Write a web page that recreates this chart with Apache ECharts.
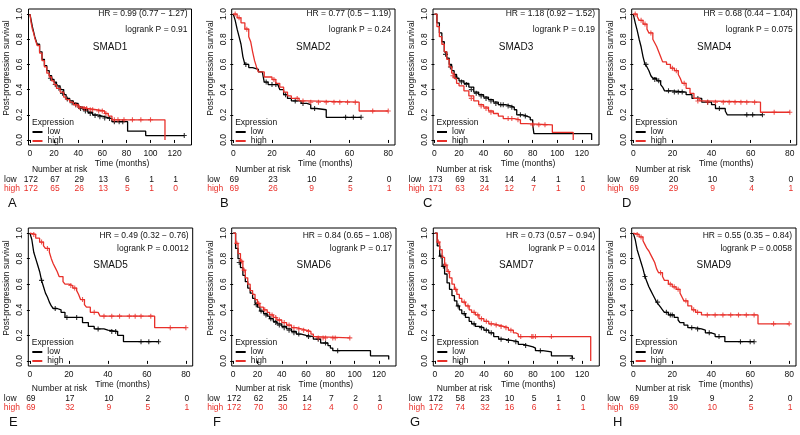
<!DOCTYPE html>
<html><head><meta charset="utf-8">
<script src="https://cdn.jsdelivr.net/npm/echarts@6/dist/echarts.min.js"></script>
<style>html,body{margin:0;padding:0;background:#fff}#c{width:800px;height:435px}</style>
</head><body><div id="c"></div>
<script>
// ---------- data ----------
const letters = ['A','B','C','D','E','F','G','H'];
const genes = ['SMAD1','SMAD2','SMAD3','SMAD4','SMAD5','SMAD6','SAMD7','SMAD9'];
const hrTexts = ['HR = 0.99 (0.77 \u2212 1.27)','HR = 0.77 (0.5 \u2212 1.19)','HR = 1.18 (0.92 \u2212 1.52)','HR = 0.68 (0.44 \u2212 1.04)',
                 'HR = 0.49 (0.32 \u2212 0.76)','HR = 0.84 (0.65 \u2212 1.08)','HR = 0.73 (0.57 \u2212 0.94)','HR = 0.55 (0.35 \u2212 0.84)'];
const pTexts = ['logrank P = 0.91','logrank P = 0.24','logrank P = 0.19','logrank P = 0.075',
                'logrank P = 0.0012','logrank P = 0.17','logrank P = 0.014','logrank P = 0.0058'];
const xTicksLong = [0,20,40,60,80,100,120];
const xTicksShort = [0,20,40,60,80];
const yTicks = [0,0.2,0.4,0.6,0.8,1.0];
const riskLow = [[172,67,29,13,6,1,1],[69,23,10,2,0],[173,69,31,14,4,1,1],[69,20,10,3,0],
                 [69,17,10,2,0],[172,62,25,14,7,2,1],[172,58,23,10,5,1,0],[69,19,9,2,0]];
const riskHigh = [[172,65,26,13,5,1,0],[69,26,9,5,1],[171,63,24,12,7,1,0],[69,29,9,4,1],
                  [69,32,9,5,1],[172,70,30,12,4,0,0],[172,74,32,16,6,1,1],[69,30,10,5,1]];

const lowA = [[0,1],[1,0.95],[2,0.9],[3,0.86],[4,0.82],[5,0.79],[6,0.76],[8,0.70],[10,0.64],[12,0.59],[14,0.55],[16,0.51],[18,0.48],[20,0.46],[22,0.43],[25,0.40],[28,0.36],[30,0.33],[33,0.31],[36,0.29],[40,0.26],[44,0.24],[48,0.22],[52,0.20],[56,0.19],[60,0.18],[64,0.17],[68,0.145],[81,0.07],[96,0.035],[128,0.035]];
const highA = [[0,1],[1,0.93],[2,0.88],[3,0.85],[4,0.81],[5,0.78],[6,0.75],[8,0.69],[10,0.63],[12,0.58],[14,0.53],[16,0.50],[18,0.47],[20,0.44],[22,0.41],[25,0.38],[28,0.34],[30,0.32],[33,0.30],[36,0.28],[40,0.26],[44,0.25],[48,0.24],[55,0.23],[62,0.21],[65,0.19],[68,0.16],[112,0.16],[112,0]];
const censLowA = [[17,0.49],[21,0.44],[24,0.41],[27,0.37],[31,0.325],[35,0.295],[38,0.28],[42,0.25],[46,0.23],[50,0.21],[54,0.195],[58,0.185],[62,0.175],[66,0.17],[70,0.145],[74,0.145],[77,0.145],[128,0.035]];
const censHighA = [[38,0.28],[41,0.26],[45,0.25],[47,0.25],[50,0.24],[52,0.24],[57,0.23],[60,0.23],[63,0.21],[70,0.16],[73,0.16],[78,0.16],[85,0.16],[92,0.16],[100,0.16]];

const lowB = [[0,1],[1,0.95],[2,0.88],[3,0.82],[4,0.76],[5,0.66],[6,0.60],[8,0.575],[10,0.56],[13,0.54],[15,0.53],[16,0.46],[18,0.44],[23,0.43],[24,0.40],[26,0.36],[28,0.33],[30,0.31],[35,0.29],[38,0.28],[40,0.25],[43,0.24],[48,0.18],[66,0.18]];
const highB = [[0,1],[2,0.97],[4,0.93],[6,0.88],[8,0.82],[9,0.78],[10,0.70],[11,0.63],[12,0.58],[13,0.54],[16,0.50],[20,0.48],[22,0.45],[24,0.42],[26,0.38],[28,0.35],[30,0.33],[34,0.31],[38,0.30],[65,0.23],[80,0.23]];
const censLowB = [[6.5,0.60],[17,0.46],[20,0.44],[22,0.44],[27,0.36],[32,0.31],[36,0.29],[42,0.25],[58,0.18],[62,0.18],[66,0.18]];
const censHighB = [[1,1],[3,0.97],[7,0.88],[21,0.48],[33,0.33],[36,0.31],[40,0.30],[44,0.30],[48,0.30],[52,0.30],[55,0.30],[59,0.30],[63,0.30],[72,0.23],[80,0.23]];

const lowC = [[0,1],[2,0.93],[4,0.85],[6,0.78],[8,0.70],[10,0.65],[12,0.60],[14,0.55],[16,0.52],[18,0.49],[20,0.47],[24,0.45],[28,0.42],[32,0.38],[36,0.36],[40,0.34],[44,0.32],[48,0.30],[52,0.28],[58,0.27],[62,0.26],[65,0.24],[67,0.20],[72,0.19],[75,0.18],[78,0.16],[80,0.12],[81,0.05],[128,0.05],[128,0]];
const highC = [[0,1],[2,0.9],[4,0.82],[6,0.76],[8,0.70],[10,0.64],[12,0.58],[14,0.53],[16,0.49],[18,0.45],[20,0.43],[24,0.39],[28,0.35],[32,0.31],[36,0.28],[40,0.26],[44,0.23],[48,0.21],[52,0.19],[56,0.17],[65,0.16],[70,0.13],[75,0.12],[96,0.06],[113,0]];
const censLowC = [[9,0.68],[13,0.58],[17,0.5],[22,0.46],[26,0.44],[30,0.40],[34,0.37],[38,0.35],[42,0.33],[46,0.31],[50,0.29],[54,0.28],[56,0.28],[60,0.27],[63,0.26],[70,0.20],[74,0.19]];
const censHighC = [[15,0.51],[30,0.33],[38,0.27],[42,0.25],[46,0.22],[60,0.17],[63,0.17],[68,0.16],[80,0.12],[85,0.12],[90,0.12]];

const lowD = [[0,1],[1,0.93],[2,0.87],[3,0.80],[4,0.74],[5,0.66],[6,0.60],[7,0.58],[8,0.55],[9,0.51],[10,0.49],[12,0.47],[14,0.44],[15,0.42],[16,0.39],[20,0.38],[27,0.36],[30,0.33],[35,0.30],[40,0.28],[42,0.25],[47,0.23],[48,0.20],[66,0.20]];
const highD = [[0,1],[2,0.98],[3,0.95],[5,0.92],[7,0.88],[8,0.85],[10,0.80],[11,0.77],[12,0.74],[13,0.70],[14,0.66],[15,0.62],[17,0.60],[19,0.57],[21,0.55],[23,0.52],[24,0.49],[25,0.45],[27,0.41],[29,0.37],[31,0.33],[34,0.31],[36,0.30],[65,0.22],[80,0.22]];
const censLowD = [[6.5,0.60],[11,0.48],[13,0.47],[18,0.39],[21,0.38],[23,0.38],[25,0.38],[33,0.33],[38,0.30],[44,0.25],[58,0.20],[61,0.20],[66,0.20]];
const censHighD = [[1,1],[4,0.95],[6,0.92],[9,0.85],[20,0.57],[22,0.55],[26,0.45],[33,0.31],[38,0.30],[42,0.30],[46,0.30],[49,0.30],[52,0.30],[55,0.30],[58,0.30],[62,0.30],[72,0.22],[80,0.22]];

const lowE = [[0,1],[1,0.95],[2,0.85],[3,0.80],[4,0.75],[5,0.70],[6,0.63],[7,0.58],[8,0.53],[9,0.50],[10,0.46],[11,0.43],[12,0.41],[14,0.40],[16,0.38],[18,0.34],[27,0.30],[30,0.27],[33,0.25],[38,0.24],[40,0.23],[45,0.20],[48,0.15],[66,0.15]];
const highE = [[0,1],[1,0.99],[3,0.96],[5,0.93],[7,0.90],[8,0.88],[10,0.85],[11,0.80],[12,0.76],[13,0.73],[14,0.70],[15,0.66],[17,0.62],[18,0.60],[20,0.59],[22,0.57],[24,0.55],[25,0.52],[26,0.48],[28,0.44],[29,0.42],[31,0.38],[35,0.37],[36,0.35],[64,0.26],[80,0.26]];
const censLowE = [[6,0.63],[13,0.41],[19,0.34],[24,0.34],[35,0.25],[42,0.23],[44,0.23],[57,0.15],[61,0.15],[66,0.15]];
const censHighE = [[2,0.99],[6,0.93],[9,0.88],[21,0.59],[23,0.57],[27,0.48],[33,0.38],[38,0.35],[42,0.35],[46,0.35],[51,0.35],[54,0.35],[57,0.35],[62,0.35],[72,0.26],[80,0.26]];

const lowF = [[0,1],[2,0.88],[4,0.80],[6,0.73],[8,0.67],[10,0.62],[12,0.57],[14,0.53],[16,0.49],[18,0.45],[20,0.42],[22,0.39],[25,0.37],[28,0.35],[30,0.33],[33,0.31],[36,0.29],[40,0.27],[44,0.25],[48,0.23],[52,0.21],[56,0.20],[60,0.19],[66,0.17],[72,0.14],[78,0.12],[80,0.10],[82,0.08],[113,0.04],[128,0.01]];
const highF = [[0,1],[2,0.92],[4,0.84],[6,0.78],[8,0.71],[10,0.65],[12,0.60],[14,0.55],[16,0.52],[18,0.48],[20,0.45],[22,0.42],[25,0.40],[28,0.38],[30,0.36],[33,0.34],[36,0.32],[40,0.30],[44,0.28],[48,0.26],[52,0.25],[56,0.24],[60,0.23],[64,0.21],[66,0.19],[68,0.18],[96,0.18]];
const censLowF = [[5,0.77],[19,0.44],[23,0.39],[27,0.36],[31,0.33],[35,0.30],[38,0.28],[42,0.26],[46,0.24],[50,0.22],[54,0.21],[62,0.19],[70,0.17],[76,0.14],[86,0.08]];
const censHighF = [[3,0.92],[7,0.78],[9,0.71],[21,0.45],[26,0.40],[32,0.36],[35,0.34],[38,0.32],[42,0.30],[46,0.28],[50,0.26],[54,0.25],[58,0.24],[62,0.23],[70,0.18],[74,0.18],[76,0.18],[82,0.18],[84,0.18],[96,0.18]];

const lowG = [[0,1],[2,0.9],[4,0.82],[6,0.74],[8,0.68],[10,0.61],[12,0.56],[14,0.51],[16,0.47],[18,0.43],[20,0.40],[22,0.37],[25,0.34],[28,0.31],[30,0.29],[33,0.27],[36,0.26],[40,0.24],[44,0.22],[48,0.19],[52,0.17],[56,0.16],[62,0.15],[68,0.13],[72,0.12],[76,0.11],[80,0.10],[82,0.08],[88,0.07],[95,0.04],[112,0.02]];
const highG = [[0,1],[2,0.93],[4,0.87],[6,0.81],[8,0.75],[10,0.70],[12,0.65],[14,0.60],[16,0.56],[18,0.52],[20,0.49],[22,0.46],[25,0.43],[28,0.40],[30,0.38],[33,0.36],[36,0.33],[40,0.31],[44,0.29],[48,0.28],[52,0.27],[56,0.26],[60,0.24],[64,0.22],[66,0.21],[68,0.19],[127,0.19],[127,0]];
const censLowG = [[5,0.82],[7,0.74],[19,0.43],[24,0.37],[32,0.29],[38,0.26],[42,0.24],[46,0.22],[54,0.17],[60,0.16],[66,0.15],[74,0.12],[86,0.08],[112,0.02]];
const censHighG = [[3,0.93],[9,0.75],[11,0.70],[17,0.56],[24,0.46],[27,0.43],[32,0.38],[35,0.36],[38,0.33],[42,0.31],[46,0.29],[50,0.28],[54,0.27],[58,0.26],[62,0.24],[70,0.19],[79,0.19],[80,0.19],[82,0.19],[95,0.19]];

const lowH = [[0,1],[1,0.95],[2,0.87],[3,0.82],[4,0.77],[5,0.72],[6,0.66],[7,0.62],[8,0.58],[9,0.55],[10,0.52],[11,0.49],[12,0.46],[13,0.44],[14,0.42],[15,0.40],[16,0.38],[18,0.36],[21,0.34],[23,0.32],[24,0.30],[26,0.28],[28,0.26],[31,0.25],[35,0.24],[37,0.22],[40,0.21],[42,0.19],[47,0.15],[62,0.15]];
const highH = [[0,1],[1,0.99],[3,0.97],[5,0.94],[6,0.91],[7,0.88],[8,0.86],[9,0.83],[10,0.80],[11,0.77],[12,0.72],[13,0.69],[15,0.66],[16,0.63],[18,0.60],[20,0.58],[22,0.56],[24,0.53],[25,0.50],[26,0.47],[28,0.43],[30,0.40],[32,0.38],[35,0.36],[64,0.29],[80,0.29]];
const censLowH = [[6,0.66],[12.5,0.46],[17,0.38],[19,0.36],[20,0.36],[30,0.26],[33,0.25],[39,0.22],[44,0.19],[55,0.15],[60,0.15],[62,0.15]];
const censHighH = [[2,0.99],[4,0.97],[14,0.69],[19,0.60],[21,0.58],[23,0.56],[27,0.47],[31,0.40],[33,0.38],[38,0.36],[42,0.36],[46,0.36],[50,0.36],[54,0.36],[58,0.36],[62,0.36],[72,0.29],[80,0.29]];

const lows = [lowA,lowB,lowC,lowD,lowE,lowF,lowG,lowH];
const highs = [highA,highB,highC,highD,highE,highF,highG,highH];
const censLows = [censLowA,censLowB,censLowC,censLowD,censLowE,censLowF,censLowG,censLowH];
const censHighs = [censHighA,censHighB,censHighC,censHighD,censHighE,censHighF,censHighG,censHighH];
const longAxis = [true,false,true,false,false,true,true,false];

// ---------- layout ----------
const boxes = [
  {l:28.5,t:9,w:163,h:136},{l:231.7,t:9,w:163.3,h:136},{l:433,t:9,w:166,h:136},{l:631.7,t:9,w:165,h:136},
  {l:28.3,t:228,w:164.4,h:138},{l:231.7,t:228,w:164.3,h:138},{l:433.3,t:228,w:166,h:138},{l:631.7,t:228,w:164.3,h:138}
];
const rowY = [
  {hr:14,p:30,title:47,expr:123,leg:127.5,nar:170,low:180,high:189,letter:203},
  {hr:236,p:249,title:265,expr:343,leg:347.5,nar:389,low:399,high:408,letter:422}
];
const letterX = [8,220,423,622,9,213,410,613];
const FONT = '"Liberation Sans", Arial, Helvetica, sans-serif';
const RED = '#e8302a', BLACK = '#000';
const PLUS = 'path://M-0.22,-1H0.22V-0.22H1V0.22H0.22V1H-0.22V0.22H-1V-0.22H-0.22Z';

const chart = echarts.init(document.getElementById('c'), null, {renderer:'canvas'});
const grid = [], xAxis = [], yAxis = [], series = [], legend = [];
for (let i = 0; i < 8; i++) {
  const b = boxes[i], r = rowY[i < 4 ? 0 : 1];
  const ticks = longAxis[i] ? xTicksLong : xTicksShort;
  grid.push({left:b.l, top:b.t, width:b.w, height:b.h, show:true, borderColor:'#000', borderWidth:1, backgroundColor:'transparent'});
  xAxis.push({type:'value', gridIndex:i, min: longAxis[i] ? -1.2 : -0.8, max: longAxis[i] ? 134 : 83.5,
    axisLine:{show:false}, splitLine:{show:false},
    axisTick:{show:true, customValues:ticks, length:3, lineStyle:{color:'#000', width:1}},
    axisLabel:{customValues:ticks, margin:4, fontSize:8.5, color:'#111', fontFamily:FONT},
    name:'Time (months)', nameLocation:'middle', nameGap:13,
    nameTextStyle:{fontSize:8.5, color:'#111', fontFamily:FONT, padding:[0,0,0,24]}});
  yAxis.push({type:'value', gridIndex:i, min:-0.04, max:1.04,
    axisLine:{show:false}, splitLine:{show:false},
    axisTick:{show:true, customValues:yTicks, length:3, lineStyle:{color:'#000', width:1}},
    axisLabel:{customValues:yTicks, rotate:90, margin:4, fontSize:8.5, color:'#111', fontFamily:FONT,
      formatter:(v)=>Number(v).toFixed(1)},
    name:'Post-progression survival', nameLocation:'middle', nameGap:17,
    nameTextStyle:{fontSize:8.5, color:'#111', fontFamily:FONT, padding:[0,0,0,18]}});
  series.push({type:'line', name:'low', xAxisIndex:i, yAxisIndex:i, data:lows[i], step:'end', showSymbol:false, symbol:'none',
    lineStyle:{color:BLACK, width:1.3}, itemStyle:{color:BLACK}, silent:true, animation:false, z:2});
  series.push({type:'scatter', name:'low', xAxisIndex:i, yAxisIndex:i, data:censLows[i], symbol:PLUS, symbolSize:5,
    itemStyle:{color:BLACK}, silent:true, animation:false, z:2});
  series.push({type:'line', name:'high', xAxisIndex:i, yAxisIndex:i, data:highs[i], step:'end', showSymbol:false, symbol:'none',
    lineStyle:{color:RED, width:1.3}, itemStyle:{color:RED}, silent:true, animation:false, z:3});
  series.push({type:'scatter', name:'high', xAxisIndex:i, yAxisIndex:i, data:censHighs[i], symbol:PLUS, symbolSize:5,
    itemStyle:{color:RED}, silent:true, animation:false, z:3});
  legend.push({data:['low','high'], left:b.l+4, top:r.leg, orient:'vertical', itemGap:0, itemWidth:10, itemHeight:2,
    icon:'rect', padding:0, selectedMode:false,
    textStyle:{fontSize:8.5, lineHeight:6.5, color:'#111', fontFamily:FONT}});
}
chart.setOption({animation:false, backgroundColor:'#fff', grid, xAxis, yAxis, series, legend});

// ---------- texts (positions from the axes) ----------
const graphic = [];
const txt = (x, y, text, opt) => graphic.push({type:'text', x, y, silent:true,
  style:Object.assign({text, fontFamily:FONT, fontSize:8.5, fill:'#111', textAlign:'left', textVerticalAlign:'middle'}, opt||{})});
for (let i = 0; i < 8; i++) {
  const b = boxes[i], r = rowY[i < 4 ? 0 : 1];
  const ticks = longAxis[i] ? xTicksLong : xTicksShort;
  const px = (t) => chart.convertToPixel({xAxisIndex:i}, t);
  txt(b.l + b.w - 4, r.hr, hrTexts[i], {textAlign:'right'});
  txt(b.l + b.w - 4, r.p, pTexts[i], {textAlign:'right'});
  txt(b.l + b.w / 2, r.title, genes[i], {textAlign:'center', fontSize:10});
  txt(b.l + 3.5, r.expr, 'Expression');
  txt(px(0) + 2, r.nar, 'Number at risk');
  txt(b.l - 24.5, r.low, 'low');
  txt(b.l - 24.5, r.high, 'high', {fill:RED});
  ticks.forEach((t, k) => {
    txt(px(t) + 1, r.low, String(riskLow[i][k]), {textAlign:'center'});
    txt(px(t) + 1, r.high, String(riskHigh[i][k]), {textAlign:'center', fill:RED});
  });
  txt(letterX[i], r.letter, letters[i], {fontSize:13});
}
chart.setOption({graphic});
</script></body></html>
